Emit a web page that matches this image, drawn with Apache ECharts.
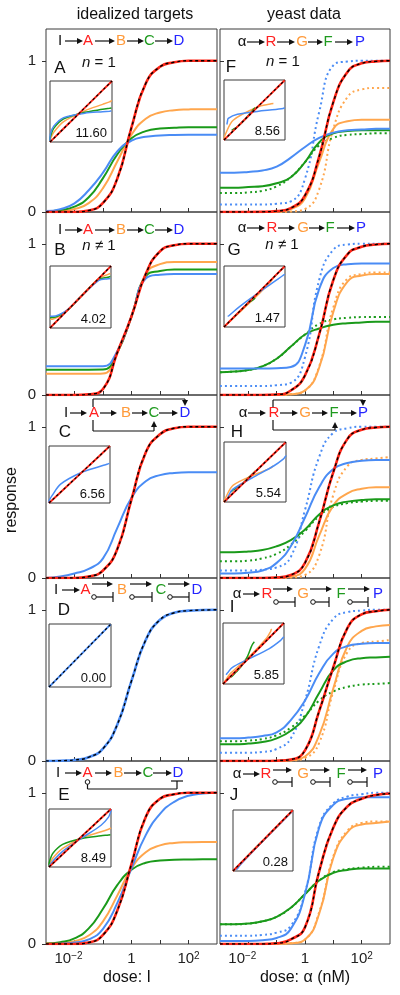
<!DOCTYPE html>
<html><head><meta charset="utf-8">
<script src="https://cdn.jsdelivr.net/npm/echarts@6/dist/echarts.min.js"></script>
<style>html,body{margin:0;padding:0;background:#fff}#c{width:400px;height:995px}</style>
</head><body><div id="c"></div>
<script>
// ---------- data ----------
const dose = [0.001,0.00316,0.01,0.0316,0.1,0.316,1,3.16,10,31.6,100,316,1000];
const xTicks = [0.01,0.1,1,10,100];
const xLabelTicks = [0.01,1,100];
const yTicks = [0,1];

// idealized targets
const A_red    = [0,0,0,0.01,0.06,0.22,0.56,0.85,0.96,0.99,1,1,1];
const A_orange = [0.002,0.006,0.02,0.059,0.158,0.334,0.511,0.617,0.658,0.673,0.678,0.68,0.68];
const A_green  = [0.004,0.012,0.035,0.097,0.224,0.38,0.487,0.535,0.552,0.557,0.56,0.56,0.56];
const A_blue   = [0.006,0.019,0.057,0.144,0.26,0.40,0.472,0.497,0.506,0.509,0.51,0.51,0.51];

const B_red    = [0,0,0,0.005,0.04,0.28,0.52,0.80,0.95,0.99,1,1,1];
const B_orange = [0.14,0.14,0.14,0.14,0.142,0.28,0.52,0.80,0.865,0.88,0.88,0.88,0.88];
const B_green  = [0.167,0.167,0.167,0.167,0.168,0.28,0.52,0.785,0.82,0.83,0.83,0.83,0.83];
const B_blue   = [0.19,0.19,0.19,0.19,0.19,0.29,0.52,0.77,0.795,0.80,0.80,0.80,0.80];

const C_red    = [0,0,0,0.01,0.05,0.19,0.52,0.83,0.95,0.99,1,1,1];
const C_blue   = [0,0.01,0.03,0.06,0.13,0.33,0.53,0.64,0.68,0.695,0.70,0.70,0.70];

const D_blue   = [0,0.002,0.007,0.025,0.082,0.24,0.53,0.80,0.934,0.98,0.994,0.998,1];

const E_red    = [0,0,0,0.01,0.06,0.22,0.53,0.84,0.96,0.99,1,1,1];
const E_orange = [0.002,0.006,0.019,0.056,0.15,0.32,0.50,0.607,0.652,0.668,0.673,0.675,0.675];
const E_green  = [0.004,0.012,0.037,0.103,0.233,0.389,0.491,0.537,0.552,0.557,0.559,0.56,0.56];
const E_blue   = [0,0.002,0.01,0.03,0.10,0.27,0.50,0.72,0.86,0.94,0.98,0.995,1];

// yeast data (solid = model, D = dotted data)
const F_red     = [0,0,0,0.001,0.006,0.026,0.11,0.366,0.727,0.925,0.983,0.996,1];
const F_orange  = [0,0,0,0,0.002,0.02,0.09,0.33,0.55,0.60,0.61,0.61,0.61];
const F_orangeD = [0,0,0,0,0,0.003,0.02,0.15,0.55,0.76,0.81,0.82,0.82];
const F_green   = [0.16,0.16,0.165,0.17,0.19,0.23,0.33,0.46,0.52,0.535,0.54,0.54,0.54];
const F_greenD  = [0.125,0.125,0.13,0.14,0.17,0.23,0.33,0.44,0.49,0.51,0.515,0.52,0.52];
const F_blue    = [0.26,0.26,0.265,0.275,0.30,0.36,0.43,0.49,0.525,0.54,0.545,0.55,0.55];
const F_blueD   = [0.05,0.05,0.05,0.05,0.055,0.07,0.22,0.66,0.97,0.995,1,1,1];

const G_red     = [0,0,0,0,0.003,0.03,0.13,0.40,0.76,0.93,0.98,0.995,1];
const G_orange  = [0,0,0,0,0,0.005,0.03,0.18,0.55,0.75,0.79,0.80,0.80];
const G_orangeD = [0,0,0,0,0,0.005,0.03,0.19,0.58,0.77,0.80,0.81,0.81];
const G_green   = [0.15,0.155,0.165,0.19,0.24,0.32,0.40,0.44,0.465,0.475,0.48,0.485,0.485];
const G_greenD  = [0.15,0.155,0.165,0.19,0.24,0.32,0.40,0.47,0.50,0.51,0.515,0.515,0.515];
const G_blue    = [0.175,0.175,0.175,0.175,0.177,0.185,0.33,0.70,0.84,0.865,0.87,0.87,0.87];
const G_blueD   = [0.06,0.06,0.06,0.06,0.065,0.08,0.25,0.76,0.96,0.995,1,1,1];

const H_red     = [0,0,0,0,0.003,0.02,0.10,0.37,0.70,0.92,0.98,0.995,1];
const H_orange  = [0,0,0,0,0.002,0.01,0.06,0.28,0.48,0.56,0.59,0.60,0.60];
const H_orangeD = [0,0,0,0,0,0.003,0.02,0.15,0.55,0.74,0.78,0.79,0.80];
const H_green   = [0.17,0.17,0.175,0.185,0.21,0.25,0.32,0.42,0.48,0.505,0.515,0.52,0.52];
const H_greenD  = [0.11,0.11,0.115,0.13,0.16,0.22,0.31,0.41,0.47,0.495,0.505,0.51,0.51];
const H_blue    = [0.03,0.03,0.035,0.05,0.10,0.21,0.40,0.60,0.72,0.76,0.775,0.78,0.78];
const H_blueD   = [0.05,0.05,0.05,0.055,0.07,0.14,0.45,0.80,0.96,0.99,1,1,1];

const I_red     = [0,0,0,0,0.002,0.01,0.07,0.33,0.62,0.88,0.97,0.99,1];
const I_orange  = [0,0,0,0,0,0.005,0.03,0.17,0.48,0.76,0.86,0.89,0.90];
const I_orangeD = [0,0,0,0,0,0.003,0.02,0.12,0.46,0.72,0.78,0.79,0.80];
const I_green   = [0.11,0.11,0.115,0.125,0.15,0.20,0.29,0.45,0.60,0.66,0.68,0.685,0.69];
const I_greenD  = [0.13,0.13,0.135,0.145,0.17,0.22,0.30,0.40,0.46,0.49,0.505,0.51,0.515];
const I_blue    = [0.15,0.15,0.155,0.165,0.19,0.27,0.40,0.58,0.71,0.76,0.775,0.78,0.78];
const I_blueD   = [0.055,0.055,0.055,0.06,0.08,0.15,0.40,0.76,0.94,0.985,0.995,1,1];

const J_red     = [0,0,0,0,0.005,0.03,0.11,0.48,0.77,0.91,0.96,0.985,0.995];
const J_orange  = [0,0,0,0,0.001,0.005,0.03,0.20,0.57,0.74,0.79,0.80,0.81];
const J_orangeD = [0,0,0,0,0.001,0.005,0.03,0.21,0.58,0.75,0.80,0.81,0.81];
const J_green   = [0.13,0.13,0.135,0.15,0.18,0.24,0.33,0.42,0.47,0.49,0.50,0.50,0.50];
const J_greenD  = [0.13,0.13,0.135,0.15,0.18,0.24,0.33,0.42,0.475,0.495,0.505,0.51,0.51];
const J_blue    = [0.02,0.02,0.02,0.025,0.04,0.10,0.33,0.77,0.92,0.96,0.97,0.97,0.97];
const J_blueD   = [0.055,0.055,0.055,0.06,0.075,0.12,0.34,0.78,0.93,0.975,0.99,1,1];

const insetScores = ['11.60','4.02','6.56','0.00','8.49','8.56','1.47','5.54','5.85','0.28'];
const panelLetters = ['A','B','C','D','E','F','G','H','I','J'];

// ---------- layout / style ----------
const FONT = '"Liberation Sans", Arial, Helvetica, sans-serif';
const COL = {red:'#ff2416', orange:'#ffa64d', green:'#1a9a1a', blue:'#4a8cf5'};
const TXT = {red:'#ff2020', orange:'#ff9a3a', green:'#1e9a1e', blue:'#2424ff', black:'#111'};
const rowTop = [29,212,395,578,761], panelH = 183;
const colLeft = [46,220], colW = [171,170];
const YMAX = 1.21;
const insetBoxes = [[50,81,62,61],[50,266,61,62],[49,446,61,57],[49,624,62,63],[49,809,62,58],
                    [224,80,61,60],[224,266,61,61],[224,442,62,60],[223,623,61,61],[233,810,60,61]];

const leftPanels = [
  {target:A_red, tc:'red', nodes:[[A_orange,'orange'],[A_green,'green'],[A_blue,'blue']]},
  {target:B_red, tc:'red', nodes:[[B_orange,'orange'],[B_green,'green'],[B_blue,'blue']]},
  {target:C_red, tc:'red', nodes:[[C_blue,'blue']]},
  {target:D_blue, tc:'blue', nodes:[]},
  {target:E_red, tc:'red', nodes:[[E_orange,'orange'],[E_green,'green'],[E_blue,'blue']]}
];
const rightPanels = [
  {red:F_red, solid:[F_orange,F_green,F_blue], dotted:[F_orangeD,F_greenD,F_blueD]},
  {red:G_red, solid:[G_orange,G_green,G_blue], dotted:[G_orangeD,G_greenD,G_blueD]},
  {red:H_red, solid:[H_orange,H_green,H_blue], dotted:[H_orangeD,H_greenD,H_blueD]},
  {red:I_red, solid:[I_orange,I_green,I_blue], dotted:[I_orangeD,I_greenD,I_blueD]},
  {red:J_red, solid:[J_orange,J_green,J_blue], dotted:[J_orangeD,J_greenD,J_blueD]}
];
const nodeColors = ['orange','green','blue'];

const grid = [], xAxis = [], yAxis = [], series = [];

function xFmt(v){
  const e = Math.round(Math.log10(v));
  if (e === 0) return '1';
  if (e < 0) return '{a|10}{n|\u2212' + (-e) + '}';
  return '{a|10}{p|' + e + '}';
}
const xRich = {
  a:{fontSize:15, fontFamily:FONT, color:'#222'},
  n:{fontSize:10, fontFamily:FONT, color:'#222', verticalAlign:'top', padding:[0,12,0,0]},
  p:{fontSize:10, fontFamily:FONT, color:'#222', verticalAlign:'top'}
};

for (let p = 0; p < 10; p++) {
  const col = p < 5 ? 0 : 1, row = p % 5;
  grid.push({left:colLeft[col], top:rowTop[row], width:colW[col], height:panelH,
    show:true, borderColor:'#3a3a3a', borderWidth:1, backgroundColor:'transparent'});
  xAxis.push({gridIndex:p, type:'log', logBase:10, min:0.001, max:1000,
    axisLine:{show:false}, splitLine:{show:false},
    axisTick:{show:true, inside:true, length:4, customValues:xTicks, lineStyle:{color:'#333'}},
    axisLabel:{show:row===4, customValues:xLabelTicks, formatter:xFmt, rich:xRich, margin:7,
      fontFamily:FONT, fontSize:15, color:'#222'}});
  yAxis.push({gridIndex:p, type:'value', min:0, max:YMAX,
    axisLine:{show:false}, splitLine:{show:false},
    axisTick:{show:true, inside:col===1, length:4, customValues:yTicks, lineStyle:{color:'#333'}},
    axisLabel:{show:col===0, customValues:yTicks, margin:10, fontFamily:FONT, fontSize:15, color:'#222'}});
}
for (let p = 0; p < 10; p++) {
  const b = insetBoxes[p];
  grid.push({left:b[0], top:b[1], width:b[2], height:b[3], show:true,
    borderColor:'#3a3a3a', borderWidth:1, backgroundColor:'#fff', z:3});
  xAxis.push({gridIndex:10+p, type:'value', min:0, max:1, show:false});
  yAxis.push({gridIndex:10+p, type:'value', min:0, max:1, show:false});
}

function addLine(ax, xs, ys, color, width, type, z, smooth) {
  series.push({type:'line', xAxisIndex:ax, yAxisIndex:ax, symbol:'none', silent:true,
    animation:false, smooth: smooth,
    data: xs.map((x,i)=>[x, ys[i]]), z: z,
    lineStyle:{color:color, width:width, type:type, cap:'butt'}});
}

// left panels
leftPanels.forEach((lp, r) => {
  const ax = r, ix = 10 + r;
  lp.nodes.forEach(([arr, c]) => addLine(ax, dose, arr, COL[c], 2, 'solid', 3, 0.5));
  addLine(ax, dose, lp.target, COL[lp.tc], 2.6, 'solid', 4, 0.5);
  addLine(ax, dose, lp.target, '#000', 1.4, [3,3], 5, 0.5);
  // inset: node vs target
  lp.nodes.forEach(([arr, c]) => addLine(ix, lp.target, arr, COL[c], 1.5, 'solid', 6, 0.3));
  addLine(ix, lp.target, lp.target, COL[lp.tc], 2, 'solid', 7, false);
  addLine(ix, lp.target, lp.target, '#000', 1.2, [2.5,2.5], 8, false);
});
// right panels
rightPanels.forEach((rp, r) => {
  const ax = 5 + r, ix = 15 + r;
  rp.dotted.forEach((arr, k) => addLine(ax, dose, arr, COL[nodeColors[k]], 2, [2,3], 3, 0.5));
  rp.solid.forEach((arr, k) => addLine(ax, dose, arr, COL[nodeColors[k]], 2, 'solid', 3, 0.5));
  addLine(ax, dose, rp.red, COL.red, 2.6, 'solid', 4, 0.5);
  addLine(ax, dose, rp.red, '#000', 1.4, [3,3], 5, 0.5);
  // inset: model vs data
  rp.solid.forEach((arr, k) => addLine(ix, rp.dotted[k], arr, COL[nodeColors[k]], 1.5, 'solid', 6, 0.3));
  addLine(ix, rp.red, rp.red, COL.red, 2, 'solid', 7, false);
  addLine(ix, rp.red, rp.red, '#000', 1.2, [2.5,2.5], 8, false);
});

// ---------- graphic annotations ----------
const g = [];
function txt(x, y, text, fill, size, extra) {
  const st = {text:text, fill:fill||'#111', font:(size||15)+'px '+FONT,
    textAlign:'center', textVerticalAlign:'middle', align:'center', verticalAlign:'middle'};
  Object.assign(st, extra||{});
  g.push({type:'text', x:x, y:y, z:50, style:st});
}
function seg(x1,y1,x2,y2){ g.push({type:'line', z:50, shape:{x1:x1,y1:y1,x2:x2,y2:y2}, style:{stroke:'#111', lineWidth:1.2}}); }
function arrowR(x1, x2, y){ seg(x1,y,x2-5,y); g.push({type:'polygon', z:50, shape:{points:[[x2,y],[x2-6,y-3],[x2-6,y+3]]}, style:{fill:'#111'}}); }
function arrowV(x, y1, y2){ const d = y2>y1?1:-1; seg(x,y1,x,y2-5*d); g.push({type:'polygon', z:50, shape:{points:[[x,y2],[x-3,y2-6*d],[x+3,y2-6*d]]}, style:{fill:'#111'}}); }
function circ(x,y){ g.push({type:'circle', z:50, shape:{cx:x,cy:y,r:2.3}, style:{fill:'#fff', stroke:'#111', lineWidth:1}}); }
function inhib(x1, x2, y){ circ(x1,y); seg(x1+2.3,y,x2,y); seg(x2,y-5,x2,y+5); }
const cols = [TXT.black, TXT.red, TXT.orange, TXT.green, TXT.blue];
function chain(labels, xs, y, arrows){
  labels.forEach((l,i)=>txt(xs[i], y, l, cols[i], 15));
  (arrows||[]).forEach(a=>arrowR(a[0], a[1], y));
}
const LL = ['I','A','B','C','D'], RL = ['\u03b1','R','G','F','P'];

// titles
txt(135, 15, 'idealized targets', '#111', 16);
txt(304, 15, 'yeast data', '#111', 16);
txt(127, 978, 'dose: I', '#111', 16);
txt(305, 978, 'dose: \u03b1 (nM)', '#111', 16);
g.push({type:'text', x:12, y:500, rotation:Math.PI/2, z:50,
  style:{text:'response', fill:'#111', font:'16px '+FONT, textAlign:'center', textVerticalAlign:'middle', align:'center', verticalAlign:'middle'}});

// panel letters
const letterPos = [[60,68],[60,250],[65,432],[64,610],[64,795],[231,67],[234,250],[237,432],[232,607],[234,795]];
letterPos.forEach((pp,i)=>txt(pp[0], pp[1], panelLetters[i], '#111', 17));

// n labels
const nRich = {i:{font:'italic 15px '+FONT, fill:'#111'}};
txt(99, 63, '{i|n} = 1', '#111', 15, {rich:nRich});
txt(99, 246, '{i|n} \u2260 1', '#111', 15, {rich:nRich});
txt(283, 62, '{i|n} = 1', '#111', 15, {rich:nRich});
txt(282, 245, '{i|n} \u2260 1', '#111', 15, {rich:nRich});

// inset scores
insetBoxes.forEach((b,i)=>txt(b[0]+b[2]-5, b[1]+b[3]-9, insetScores[i], '#111', 13, {textAlign:'right', align:'right'}));

// diagrams
chain(LL, [60,88,121,149.5,179], 41, [[65,83],[95,115],[127,144],[155,173]]);
chain(LL, [60,88,121,149.5,179], 230, [[65,83],[95,115],[127,144],[155,173]]);
chain(LL, [66,94,126,154,185], 413, [[70,87],[100,117],[132,148],[159,178]]);
seg(93,407,93,399); seg(93,399,185,399); arrowV(185,399,406);
seg(93,420,93,431); seg(93,431,154,431); arrowV(154,431,421);
chain(LL, [56,85.5,122,161,197], 590, [[62,80]]);
arrowR(92,113,584); arrowR(130,152,584); arrowR(168,190,584);
inhib(94,113,597); inhib(132,152,597); inhib(170,189,597);
chain(LL, [58,87.5,118.5,148,178], 773, [[65,82],[95,112],[124,142],[153,172]]);
circ(87.5,782); seg(87.5,784.3,87.5,789); seg(87.5,789,177,789); seg(177,789,177,781); seg(171,781,183,781);
chain(RL, [242,271,302,328,360], 42, [[247,265],[277,295],[308,323],[335,353]]);
chain(RL, [242,272,303,330,361], 228, [[247,265],[278,295],[309,325],[337,355]]);
chain(RL, [243,274,305,334,363], 413, [[248,266],[280,298],[312,328],[340,357]]);
seg(273,407,273,400); seg(273,400,363,400); arrowV(363,400,406);
seg(273,420,273,430); seg(273,430,335,430); arrowV(335,430,422);
chain(RL, [237,267,303,341,378], 594, [[243,260]]);
arrowR(273,293,589); arrowR(310,332,589); arrowR(348,370,589);
inhib(276,295,602); inhib(313,329,602); inhib(350,368,602);
chain(RL, [237,266,303,341,378], 774, [[243,260]]);
arrowR(273,292,770); arrowR(310,330,770); arrowR(348,367,770);
inhib(275,292,782); inhib(313,330,782); inhib(350,367,782);

const chart = echarts.init(document.getElementById('c'), null, {renderer:'canvas'});
chart.setOption({animation:false, backgroundColor:'#fff', grid:grid, xAxis:xAxis, yAxis:yAxis, series:series, graphic:g});
</script></body></html>
